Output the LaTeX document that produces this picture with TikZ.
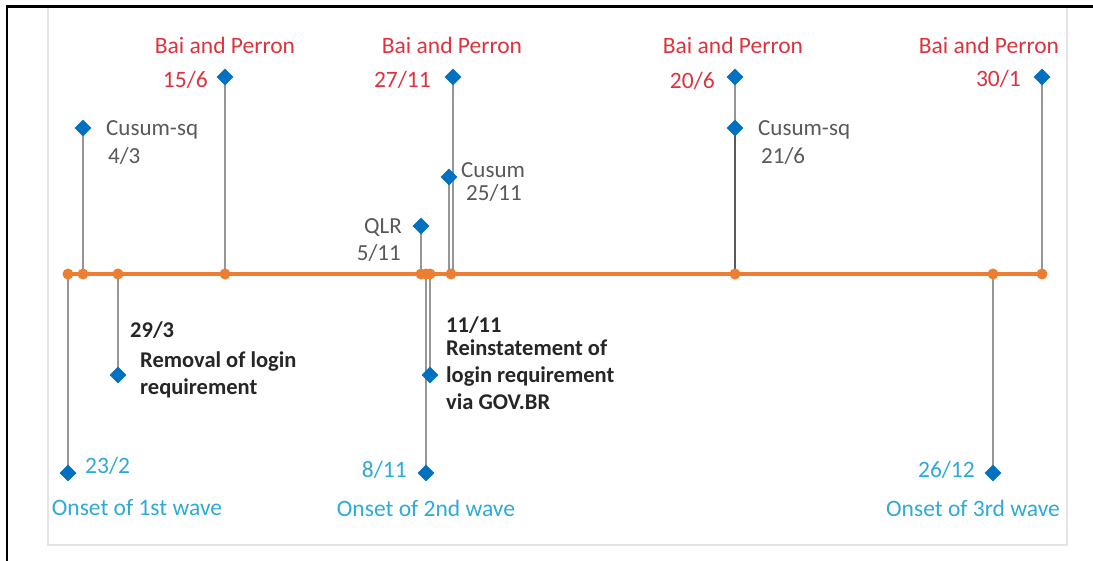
\documentclass[tikz,border=0pt]{standalone}
\usepackage{fontspec}
\setmainfont{Carlito}
\usetikzlibrary{shapes.geometric}
\pgfdeclarelayer{bg}
\pgfdeclarelayer{back}
\pgfsetlayers{back,bg,main}
\definecolor{tlorange}{RGB}{237,125,49}
\definecolor{gemblue}{RGB}{0,112,192}
\definecolor{stemgray}{RGB}{150,150,150}
\definecolor{tlred}{RGB}{220,52,62}
\definecolor{tlcyan}{RGB}{45,170,215}
\definecolor{txtgray}{RGB}{89,89,89}
\definecolor{txtdark}{RGB}{38,38,38}
\definecolor{panel}{RGB}{228,228,228}
\begin{document}
\begin{tikzpicture}[x=1pt,y=-1pt,
  dot/.style={circle,fill=tlorange,inner sep=0pt,minimum size=11pt},
  gem/.style={diamond,fill=gemblue,inner sep=0pt,minimum size=17pt},
  stem/.style={draw=stemgray,line width=1.8pt},
  base/.style={inner sep=0pt,font=\fontsize{23}{27}\selectfont},
  redlbl/.style={base,text=tlred,font=\fontsize{23.5}{27}\selectfont},
  graylbl/.style={base,text=txtgray},
  boldlbl/.style={base,text=txtdark,font=\fontsize{22.5}{27}\selectfont\bfseries,align=left},
  cyanlbl/.style={base,text=tlcyan,font=\fontsize{23.5}{27}\selectfont}]
\useasboundingbox (0,0) rectangle (1093,561);
\begin{pgfonlayer}{back}
\fill[white] (0,0) rectangle (1093,561);
\draw[panel,line width=1.5pt] (48,7) rectangle (1067,545);
\draw[black,line width=2.5pt] (7,561) -- (7,6.5) -- (1093,6.5);
\end{pgfonlayer}

% timeline dots
\node[dot] (d1) at (68,274) {};
\node[dot] (d2) at (83,274) {};
\node[dot] (d3) at (118,274) {};
\node[dot] (d4) at (225,274) {};
\node[dot] (d5) at (421,274) {};
\node[dot] (d6) at (426,274) {};
\node[dot] (d7) at (430,274) {};
\node[dot] (d8) at (451,274) {};
\node[dot] (d9) at (735,274) {};
\node[dot] (d10) at (993,274) {};
\node[dot] (d11) at (1042,274) {};

% diamonds
\node[gem] (g1) at (68,473) {};
\node[gem] (g2) at (83,128) {};
\node[gem] (g3) at (118,375) {};
\node[gem] (g4) at (225,77) {};
\node[gem] (g5) at (421,226) {};
\node[gem] (g6) at (426,473) {};
\node[gem] (g7) at (430,375) {};
\node[gem] (g8) at (449,177) {};
\node[gem] (g9) at (453,77) {};
\node[gem] (g10) at (735,77) {};
\node[gem] (g11) at (735,128) {};
\node[gem] (g12) at (993,473) {};
\node[gem] (g13) at (1042,77) {};

\begin{pgfonlayer}{bg}
\draw[stem] (g1.center) -- (g1.center |- d1.center);
\draw[stem] (g2.center) -- (g2.center |- d2.center);
\draw[stem] (g3.center) -- (g3.center |- d3.center);
\draw[stem] (g4.center) -- (g4.center |- d4.center);
\draw[stem] (g5.center) -- (g5.center |- d5.center);
\draw[stem] (g6.center) -- (g6.center |- d6.center);
\draw[stem] (g7.center) -- (g7.center |- d7.center);
\draw[stem] (g8.center) -- (g8.center |- d8.center);
\draw[stem] (g9.center) -- (g9.center |- d8.center);
\draw[stem] (g10.center) -- (g10.center |- d9.center);
\draw[stem,draw=txtgray] (g11.center) -- (g11.center |- d9.center);
\draw[stem] (g12.center) -- (g12.center |- d10.center);
\draw[stem] (g13.center) -- (g13.center |- d11.center);
\draw[tlorange,line width=3.2pt] (d1.center) -- (d11.center);
\end{pgfonlayer}

% red labels
\node[redlbl] (bp1) at (225,45) {Bai and Perron};
\node[redlbl] (bp2) at (452,45) {Bai and Perron};
\node[redlbl] (bp3) at (733,45) {Bai and Perron};
\node[redlbl] (bp4) at (989,45) {Bai and Perron};
\node[redlbl,anchor=east] (r1) at (208,80) {15/6};
\node[redlbl,anchor=east] (r2) at (431,80) {27/11};
\node[redlbl,anchor=east] (r3) at (715,81) {20/6};
\node[redlbl,anchor=east] (r4) at (1021,79) {30/1};

% gray labels
\node[graylbl,anchor=west] (c1) at (106,130) {Cusum-sq};
\node[graylbl,anchor=west] (c1d) at (108,156) {4/3};
\node[graylbl,anchor=west] (c2) at (758,130) {Cusum-sq};
\node[graylbl,anchor=west] (c2d) at (761,156) {21/6};
\node[graylbl,anchor=west] (c3) at (461,170) {Cusum};
\node[graylbl,anchor=west] (c3d) at (466,193) {25/11};
\node[graylbl,anchor=east] (q1) at (402,228) {QLR};
\node[graylbl,anchor=east] (q1d) at (401,253) {5/11};

% bold labels
\node[boldlbl,anchor=west] (b1d) at (130,330) {29/3};
\node[boldlbl,anchor=north west] (b1) at (140,352) {Removal of login\\requirement};
\node[boldlbl,anchor=west] (b2d) at (446,325) {11/11};
\node[boldlbl,anchor=north west] (b2) at (446,340) {Reinstatement of\\login requirement\\via GOV.BR};

% cyan labels
\node[cyanlbl,anchor=west] (w1d) at (85,466) {23/2};
\node[cyanlbl] (w1) at (137,508) {Onset of 1st wave};
\node[cyanlbl,anchor=east] (w2d) at (407,470) {8/11};
\node[cyanlbl] (w2) at (426,508) {Onset of 2nd wave};
\node[cyanlbl,anchor=east] (w3d) at (975,470) {26/12};
\node[cyanlbl] (w3) at (973,508) {Onset of 3rd wave};
\end{tikzpicture}
\end{document}
